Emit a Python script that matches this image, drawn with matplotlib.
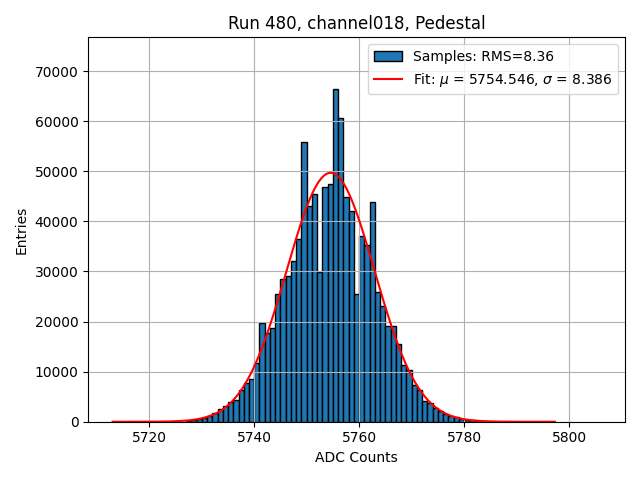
import numpy as np
import matplotlib
matplotlib.use('Agg')
from matplotlib import pyplot as plt

# histogram range (integer ADC codes), counts per code
first_code = 5713
last_code = 5806
codes = np.arange(5727, 5784)
counts = [130, 260, 460, 790, 1100, 1750, 2500, 3200, 3870, 4270,
          6350, 7700, 8460, 11650, 19630, 17700, 18640, 25450, 28420, 29080,
          32060, 36420, 55850, 43150, 45540, 29900, 46800, 47530, 66460, 60650,
          44950, 42170, 25600, 37080, 35300, 43820, 25980, 23140, 19040, 19170,
          15470, 11300, 10400, 7270, 6350, 4150, 3650, 2800, 2100, 1550,
          1150, 850, 620, 400, 250, 150, 80]

rms = 8.36
mu = 5754.546
sigma = 8.386
amp = 49700
fit_lo, fit_hi = 5713, 5797.3

edges = np.arange(codes[0], codes[-1] + 2)

fig, ax = plt.subplots(figsize=(6.4, 4.8), dpi=100)
ax.hist(codes, bins=edges, weights=counts, edgecolor='black',
        color='tab:blue', label='Samples: RMS=%.2f' % rms)

xf = np.linspace(fit_lo, fit_hi, 400)
yf = amp * np.exp(-0.5 * ((xf - mu) / sigma) ** 2)
ax.plot(xf, yf, color='red', lw=1.5,
        label=r'Fit: $\mu$ = %.3f, $\sigma$ = %.3f' % (mu, sigma))

span = last_code - first_code
ax.set_xlim(first_code - 0.05 * span, last_code + 0.05 * span)
ax.set_ylim(0, max(counts) * 1.155)
ax.set_title('Run 480, channel018, Pedestal')
ax.set_xlabel('ADC Counts')
ax.set_ylabel('Entries')
ax.grid(True)
ax.legend(loc='upper right')
fig.tight_layout()
fig.savefig('out.png')
